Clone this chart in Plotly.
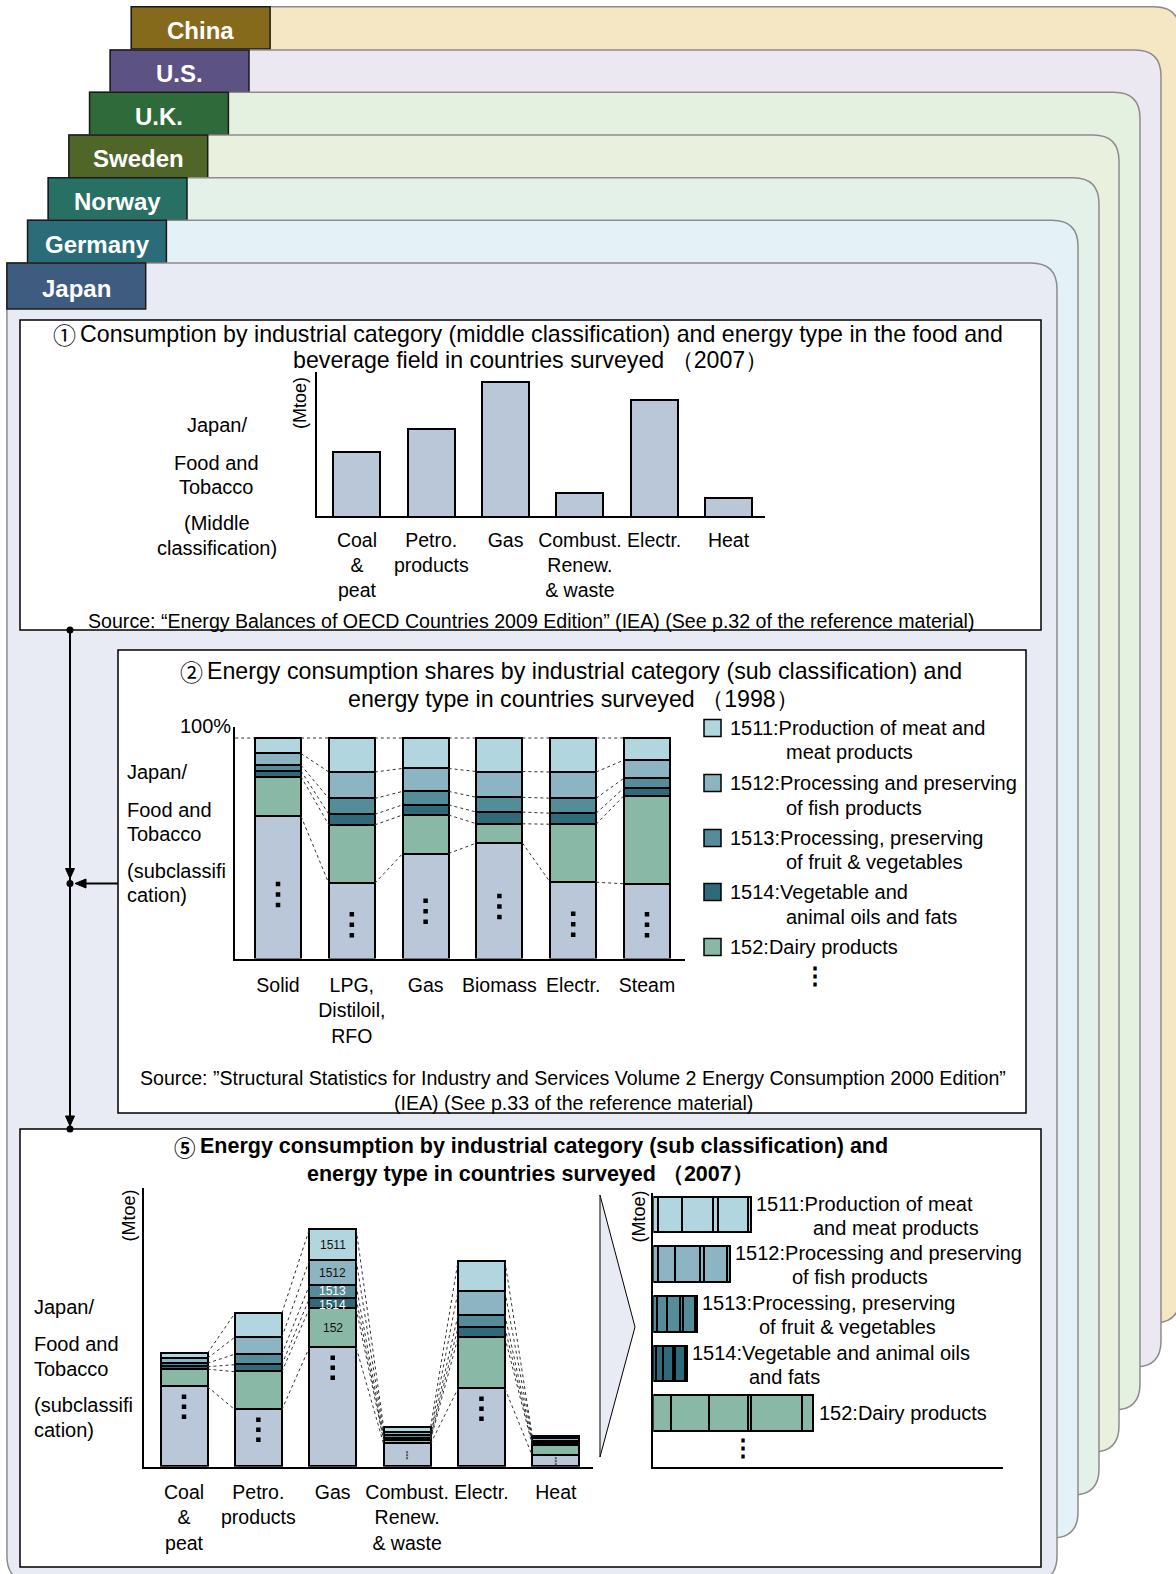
import plotly.graph_objects as go

W, H = 1176, 1574

# ---------------- data ----------------
countries = ["China", "U.S.", "U.K.", "Sweden", "Norway", "Germany", "Japan"]
tab_colors = ["#856A1C", "#5C5283", "#2F6B3A", "#4F6628", "#277063", "#2B6C79", "#3E5C80"]
bg_colors = ["#F5E7C4", "#ECE8F1", "#E4F1E1", "#E9F1DE", "#E4F1E8", "#E4F1F6", "#E8EBF3"]

# chart 1: Japan food & tobacco, middle classification (2007, Mtoe)
energy_2007 = ["Coal<br>&<br>peat", "Petro.<br>products", "Gas", "Combust.<br>Renew.<br>& waste", "Electr.", "Heat"]
mid_2007 = [1.13, 1.54, 2.36, 0.42, 2.05, 0.32]

# chart 2: shares by sub classification (1998, %)
energy_1998 = ["Solid", "LPG,<br>Distiloil,<br>RFO", "Gas", "Biomass", "Electr.", "Steam"]
share_other = [64.5, 34.1, 47.6, 52.4, 34.6, 33.9]
share_152 = [18.0, 26.5, 17.5, 8.7, 26.3, 40.0]
share_1514 = [2.6, 4.8, 4.6, 5.3, 5.0, 3.5]
share_1513 = [2.6, 7.2, 6.1, 6.7, 6.8, 4.4]
share_1512 = [5.3, 12.0, 10.4, 11.7, 11.9, 8.2]
share_1511 = [7.0, 15.4, 13.8, 15.2, 15.4, 10.0]

# chart 3/4: consumption by sub classification (2007, Mtoe) per energy type
sub_other = [0.80, 0.57, 1.19, 0.23, 0.78, 0.11]
sub_152 = [0.175, 0.38, 0.39, 0.035, 0.51, 0.105]
sub_1514 = [0.025, 0.07, 0.10, 0.02, 0.10, 0.02]
sub_1513 = [0.035, 0.105, 0.13, 0.025, 0.125, 0.02]
sub_1512 = [0.05, 0.17, 0.25, 0.035, 0.235, 0.025]
sub_1511 = [0.05, 0.24, 0.31, 0.05, 0.30, 0.025]

sub_codes = ["1511", "1512", "1513", "1514", "152"]
sub_colors = {"1511": "#B2D6DF", "1512": "#8CB4C2", "1513": "#558C99",
              "1514": "#2E6A7A", "152": "#8AB8A6", "other": "#B9C7D9"}
legend_line1 = ["1511:Production of meat and", "1512:Processing and preserving",
                "1513:Processing, preserving", "1514:Vegetable and", "152:Dairy products"]
legend_line2 = ["meat products", "of fish products", "of fruit & vegetables",
                "animal oils and fats", ""]
hbar_line1 = ["1511:Production of meat", "1512:Processing and preserving",
              "1513:Processing, preserving", "1514:Vegetable and animal oils",
              "152:Dairy products"]
hbar_line2 = ["and meat products", "of fish products", "of fruit & vegetables",
              "and fats", ""]

ARIAL = "Arial, Liberation Sans, sans-serif"
JP = "Noto Sans CJK JP, sans-serif"


def X(p):
    return p / W


def Y(p):
    return 1 - p / H


shapes = []
annotations = []


def P(x, y):
    return f"{X(x):.5f},{Y(y):.5f}"


def round_rect(x0, y0, x1, y1, r):
    return (f"M {P(x0, y0)} L {P(x1 - r, y0)} Q {P(x1, y0)} {P(x1, y0 + r)} "
            f"L {P(x1, y1 - r)} Q {P(x1, y1)} {P(x1 - r, y1)} "
            f"L {P(x0 + r, y1)} Q {P(x0, y1)} {P(x0, y1 - r)} Z")


def rect(x0, y0, x1, y1, fill, line="black", lw=1.5, layer="below"):
    shapes.append(dict(type="rect", xref="paper", yref="paper", x0=X(x0), x1=X(x1),
                       y0=Y(y1), y1=Y(y0), fillcolor=fill,
                       line=dict(color=line, width=lw), layer=layer))


def text(x, y, s, size=20, family=ARIAL, xa="center", ya="middle", color="black",
         bold=False, angle=0):
    if bold:
        s = f"<b>{s}</b>"
    annotations.append(dict(x=X(x), y=Y(y), xref="paper", yref="paper", text=s,
                            showarrow=False, xanchor=xa, yanchor=ya, textangle=angle,
                            align="center",
                            font=dict(family=family, size=size, color=color)))


# ---------------- country tab backgrounds ----------------
tab_left = [131.3, 110.2, 89.6, 68.9, 48.2, 27.6, 6.9]
tab_top = [6.7, 50.0, 92.3, 135.0, 177.7, 220.3, 263.0]
tab_bot = [49.0, 92.3, 134.7, 177.7, 220.3, 262.7, 309.0]
bg_right = [1180, 1161, 1140, 1119, 1099, 1078, 1057]
bg_bottom = [1323, 1367, 1410, 1452, 1495, 1538, 1582]
for i in range(7):
    shapes.append(dict(type="path", xref="paper", yref="paper",
                       path=round_rect(tab_left[i], tab_top[i], bg_right[i], bg_bottom[i], 26),
                       fillcolor=bg_colors[i], line=dict(color="#8C8C8C", width=1.5),
                       layer="below"))
    rect(tab_left[i], tab_top[i], tab_left[i] + 138.8, tab_bot[i], tab_colors[i],
         line="#1A1A1A", lw=1.5)
    text(tab_left[i] + 69.4, (tab_top[i] + tab_bot[i]) / 2 + 2.5, countries[i],
         size=24, color="white", bold=True)

# ---------------- panels ----------------
rect(20, 320, 1041, 630, "white")
rect(118, 650, 1026, 1113, "white")
rect(20, 1129, 1041, 1567, "white")

# panel 1 texts
text(78, 334, "①", size=23, family=JP, xa="right")
text(78, 334, "Consumption by industrial category (middle classification) and energy type in the food and",
     size=23.2, xa="left")
text(530, 360, "beverage field in countries surveyed （2007）", size=23.2)
text(531, 621, "Source: “Energy Balances of OECD Countries 2009 Edition” (IEA) (See p.32 of the reference material)",
     size=19.6)
for s, yy in [("Japan/", 425), ("Food and", 462.5), ("Tobacco", 486.5),
              ("(Middle", 523), ("classification)", 548)]:
    text(216.5, yy, s, size=20)
text(300, 403, "(Mtoe)", size=18, angle=-90)

# panel 2 texts
text(205, 671, "②", size=23, family=JP, xa="right")
text(205, 671, "Energy consumption shares by industrial category (sub classification) and",
     size=23.2, xa="left")
text(573, 699, "energy type in countries surveyed （1998）", size=23.2)
text(573, 1077.5, "Source: ”Structural Statistics for Industry and Services Volume 2 Energy Consumption 2000 Edition”",
     size=19.6)
text(573, 1102.5, "(IEA) (See p.33 of the reference material)", size=19.6)
text(233, 726, "100%", size=20, xa="right")
for s, yy in [("Japan/", 772), ("Food and", 809.5), ("Tobacco", 834),
              ("(subclassifi", 870.5), ("cation)", 895)]:
    text(125, yy, s, size=20, xa="left")
legend_y = [728, 783, 838, 892, 947]
for k, code in enumerate(sub_codes):
    rect(704, legend_y[k] - 8.5, 721, legend_y[k] + 8.5, sub_colors[code], lw=1.5, layer="above")
    text(728, legend_y[k], legend_line1[k], size=20, xa="left")
    if legend_line2[k]:
        text(784, legend_y[k] + 24.5, legend_line2[k], size=20, xa="left")
text(815, 975, "<b>⋮</b>", size=24)

# panel 3 texts
text(198, 1146, "<b>⑤</b>", size=21.5, family=JP, xa="right")
text(198, 1146, "Energy consumption by industrial category (sub classification) and",
     size=21.5, xa="left", bold=True)
text(530, 1173.5, "energy type in countries surveyed （2007）", size=21.5, bold=True)
for s, yy in [("Japan/", 1307), ("Food and", 1343.5), ("Tobacco", 1368.5),
              ("(subclassifi", 1404.5), ("cation)", 1429.5)]:
    text(32, yy, s, size=20, xa="left")
text(128.5, 1216, "(Mtoe)", size=18, angle=-90)
text(638.5, 1217, "(Mtoe)", size=18, angle=-90)
text(742.7, 1447, "<b>⋮</b>", size=24)

# chevron
shapes.append(dict(type="path", xref="paper", yref="paper",
                   path=f"M {P(600, 1195)} L {P(635, 1327)} L {P(600, 1457)} Z",
                   fillcolor="#E8EBF3", line=dict(color="black", width=1), layer="above"))

# flow arrows at the left
def seg(x0, y0, x1, y1, lw=2):
    shapes.append(dict(type="line", xref="paper", yref="paper", x0=X(x0), y0=Y(y0),
                       x1=X(x1), y1=Y(y1), line=dict(color="black", width=lw), layer="above"))


def tri(pts):
    path = "M " + " L ".join(P(a, b) for a, b in pts) + " Z"
    shapes.append(dict(type="path", xref="paper", yref="paper", path=path,
                       fillcolor="black", line=dict(color="black", width=1), layer="above"))


def dot(x, y, r=3.5):
    shapes.append(dict(type="circle", xref="paper", yref="paper", x0=X(x - r), x1=X(x + r),
                       y0=Y(y + r), y1=Y(y - r), fillcolor="black",
                       line=dict(color="black", width=0), layer="above"))


seg(70, 630, 70, 1125)
seg(86, 883.5, 118, 883.5)
tri([(65.5, 868.5), (74.5, 868.5), (70, 878.5)])
tri([(65.5, 1116), (74.5, 1116), (70, 1126)])
tri([(86, 879), (86, 888), (75, 883.5)])
dot(70, 630)
dot(70, 883.5)
dot(70, 1129)

# ---------------- traces ----------------
fig = go.Figure()
LINE = dict(color="black", width=2)

# chart 1
fig.add_trace(go.Bar(x=list(range(6)), y=mid_2007, width=0.633,
                     marker=dict(color="#B9C7D9", line=LINE),
                     xaxis="x2", yaxis="y2", showlegend=False, hoverinfo="skip"))


def stacked(levels, width, xa, ya):
    for name, vals in levels:
        fig.add_trace(go.Bar(x=list(range(6)), y=vals, width=width,
                             marker=dict(color=sub_colors[name], line=LINE),
                             xaxis=xa, yaxis=ya, showlegend=False, hoverinfo="skip"))
    cum = []
    run = [0.0] * 6
    for _, vals in levels:
        run = [run[i] + vals[i] for i in range(6)]
        cum.append(run[:])
    return cum


def connectors(cum, width, xa, ya, start=None):
    xs, ys = [], []
    for b in cum:
        for i in range(5):
            xs += [i + width / 2, i + 1 - width / 2, None]
            ys += [b[i], b[i + 1], None]
    if start is not None:
        xs += [start, -width / 2, None]
        ys += [cum[-1][0], cum[-1][0], None]
    fig.add_trace(go.Scatter(x=xs, y=ys, mode="lines", xaxis=xa, yaxis=ya,
                             line=dict(color="#333333", width=1, dash="dot"),
                             showlegend=False, hoverinfo="skip"))


# chart 2
W2 = 0.623
lev2 = [("other", share_other), ("152", share_152), ("1514", share_1514),
        ("1513", share_1513), ("1512", share_1512), ("1511", share_1511)]
cum2 = stacked(lev2, W2, "x3", "y3")
connectors(cum2, W2, "x3", "y3", start=-0.58)
dx, dy = [], []
for i in range(6):
    c = share_other[i] * 0.45
    for off in (-4.76, 0, 4.76):
        dx.append(i)
        dy.append(c + off)
fig.add_trace(go.Scatter(x=dx, y=dy, mode="markers", xaxis="x3", yaxis="y3",
                         marker=dict(symbol="square", size=4.5, color="black"),
                         showlegend=False, hoverinfo="skip"))

# chart 3
W3 = 0.632
lev3 = [("other", sub_other), ("152", sub_152), ("1514", sub_1514),
        ("1513", sub_1513), ("1512", sub_1512), ("1511", sub_1511)]
cum3 = stacked(lev3, W3, "x4", "y4")
connectors(cum3, W3, "x4", "y4")
for i in range(6):
    segpx = sub_other[i] * 100
    if segpx > 40:
        c = sub_other[i] - 0.20
        offs, sz, colr = (-0.10, 0, 0.10), 4.5, "black"
    else:
        c = sub_other[i] * 0.5
        offs, sz, colr = (-0.03, 0, 0.03), 2, "#555555"
    fig.add_trace(go.Scatter(x=[i] * 3, y=[c + o for o in offs], mode="markers",
                             xaxis="x4", yaxis="y4",
                             marker=dict(symbol="square", size=sz, color=colr),
                             showlegend=False, hoverinfo="skip"))
# labels inside the Gas column
lab_names = ["other", "152", "1514", "1513", "1512", "1511"]
lab_shift = {"152": 0, "1514": -1, "1513": 1.5, "1512": 0, "1511": 0}
for k in range(1, 6):
    lo = cum3[k - 1][2]
    hi = cum3[k][2]
    name = lab_names[k]
    annotations.append(dict(x=2, y=(lo + hi) / 2, xref="x4", yref="y4", text=name,
                            showarrow=False, yshift=lab_shift[name],
                            font=dict(family=ARIAL, size=12,
                                      color="white" if name in ("1513", "1514") else "#111111")))

# chart 4: horizontal stacked bars (sub classification totals split by energy type)
rows = [sub_1511, sub_1512, sub_1513, sub_1514, sub_152]
for e in range(6):
    fig.add_trace(go.Bar(orientation="h", y=list(range(5)), x=[r[e] for r in rows],
                         width=0.72,
                         marker=dict(color=[sub_colors[c] for c in sub_codes], line=LINE),
                         xaxis="x5", yaxis="y5", showlegend=False, hoverinfo="skip"))
for k in range(5):
    tot = sum(rows[k])
    if hbar_line2[k]:
        annotations.append(dict(x=tot, y=k, xref="x5", yref="y5", text=hbar_line1[k],
                                showarrow=False, xanchor="left", xshift=3, yshift=11,
                                font=dict(family=ARIAL, size=20, color="black")))
        annotations.append(dict(x=tot, y=k, xref="x5", yref="y5", text=hbar_line2[k],
                                showarrow=False, xanchor="left", xshift=60, yshift=-13,
                                font=dict(family=ARIAL, size=20, color="black")))
    else:
        annotations.append(dict(x=tot, y=k, xref="x5", yref="y5", text=hbar_line1[k],
                                showarrow=False, xanchor="left", xshift=4,
                                font=dict(family=ARIAL, size=20, color="black")))

# ---------------- axes ----------------
def xax(x0, x1, rng, ya, ticktext=None, standoff=6):
    d = dict(domain=[X(x0), X(x1)], range=rng, anchor=ya, showgrid=False, zeroline=False,
             showline=True, linecolor="black", linewidth=2, ticks="", fixedrange=True)
    if ticktext:
        d.update(tickmode="array", tickvals=list(range(len(ticktext))), ticktext=ticktext,
                 tickfont=dict(family=ARIAL, size=19.5, color="black"),
                 ticklabelstandoff=standoff)
    else:
        d.update(showticklabels=False)
    return d


def yax(y0, y1, rng, xa):
    return dict(domain=[Y(y1), Y(y0)], range=rng, anchor=xa, showgrid=False,
                zeroline=False, showline=True, linecolor="black", linewidth=2,
                ticks="", showticklabels=False, fixedrange=True)


fig.update_layout(
    width=W, height=H, margin=dict(l=0, r=0, t=0, b=0),
    paper_bgcolor="white", plot_bgcolor="rgba(0,0,0,0)",
    barmode="stack", bargap=0, showlegend=False,
    shapes=shapes, annotations=annotations,
    xaxis=dict(visible=False, domain=[0, 0.001]), yaxis=dict(visible=False, domain=[0, 0.001]),
    xaxis2=xax(317, 764.8, [-0.538, 5.489], "y2", energy_2007, standoff=5),
    yaxis2=yax(371.7, 516.3, [0, 2.537], "x2"),
    xaxis3=xax(235, 685, [-0.583, 5.515], "y3", energy_1998, standoff=8),
    yaxis3=yax(727, 958.5, [0, 105], "x3"),
    xaxis4=xax(144, 592.7, [-0.538, 5.496], "y4", energy_2007, standoff=7),
    yaxis4=yax(1188.3, 1466.7, [0, 2.784], "x4"),
    xaxis5=xax(653.3, 1002.7, [0, 3.494], "y5"),
    yaxis5=dict(domain=[Y(1466.7), Y(1193)], range=[5.077, -0.433], anchor="x5",
                showgrid=False, zeroline=False, showline=True, linecolor="black",
                linewidth=2, ticks="", showticklabels=False, fixedrange=True),
)

fig.write_html("out.html", config={"displayModeBar": False},
               post_script="document.body.style.margin='0';")
